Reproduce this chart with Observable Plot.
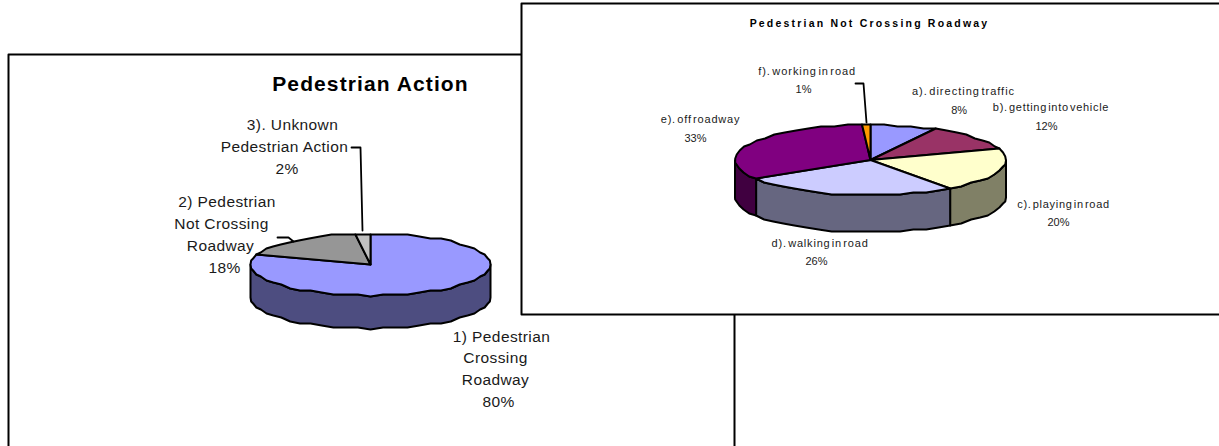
<!DOCTYPE html>
<html>
<head>
<meta charset="utf-8">
<script src="https://cdn.jsdelivr.net/npm/d3@7"></script>
<script src="https://cdn.jsdelivr.net/npm/@observablehq/plot@0.6"></script>
<style>
  html, body { margin: 0; padding: 0; background: #fff; }
  svg { display: block; }
</style>
</head>
<body>
<div id="chart"></div>
<script>
// Shares of each pedestrian action, in percent
const actionLabels = ["1) Pedestrian Crossing Roadway", "2) Pedestrian Not Crossing Roadway", "3). Unknown Pedestrian Action"];
const actionShares = [80, 18, 2];
const actionTops = ["#9999ff", "#969696", "#c0c0c0"];
const actionSides = ["#4d4d80", "#4b4b4b", "#606060"];

const notCrossingLabels = ["a). directing traffic", "b). getting into vehicle", "c). playing in road", "d). walking in road", "e). off roadway", "f). working in road"];
const notCrossingShares = [8, 12, 20, 26, 33, 1];
const notCrossingTops = ["#9999ff", "#993366", "#ffffcc", "#ccccff", "#800080", "#ff9900"];
const notCrossingSides = ["#4d4d80", "#4d1a33", "#808066", "#666680", "#400040", "#804d00"];

const width = 1219, height = 446;

// Flatten a stack of shares into polygons for a tilted pie with a rim.
// Outline points snap to a coarse grid, giving the stepped edge of a low-resolution export.
function tiltedPie(shares, tops, sides, pie) {
  const total = d3.sum(shares);
  const rim = [], faces = [];
  const at = (deg, dy = 0) => {
    const a = deg * Math.PI / 180;
    const y = pie.cy - pie.ry * Math.cos(a);
    return {x: pie.cx + pie.rx * Math.sin(a), y: Math.round(y / pie.snap) * pie.snap + dy};
  };
  let start = 0;
  shares.forEach((share, i) => {
    const end = start + 360 * share / total;
    const steps = Math.max(2, Math.ceil((end - start) / 6));
    const arc = d3.range(steps + 1).map(k => start + (end - start) * k / steps);
    // Rim: only the part of the arc on the near side of the ellipse is visible
    const lo = Math.max(start, 90), hi = Math.min(end, 270);
    if (lo < hi) {
      const near = arc.filter(d => d > lo && d < hi);
      const edge = [lo, ...near, hi];
      const outline = [...edge.map(d => at(d)), ...edge.slice().reverse().map(d => at(d, pie.depth))];
      outline.forEach(p => rim.push({...p, id: `${pie.id}-rim-${i}`, fill: sides[i]}));
    }
    [{x: pie.cx, y: pie.cy}, ...arc.map(d => at(d))].forEach(p =>
      faces.push({...p, id: `${pie.id}-face-${i}`, fill: tops[i]}));
    start = end;
  });
  return {rim, faces};
}

const actionPie = tiltedPie(actionShares, actionTops, actionSides,
  {id: "action", cx: 370, cy: 264, rx: 120, ry: 31, depth: 33, snap: 2});
const notCrossingPie = tiltedPie(notCrossingShares, notCrossingTops, notCrossingSides,
  {id: "notCrossing", cx: 870, cy: 159.5, rx: 135.5, ry: 35, depth: 37, snap: 2});

// Chart frames: the second panel sits on top of the first
const frames = [
  [{x: 8, y: 54}, {x: 734, y: 54}, {x: 734, y: 460}, {x: 8, y: 460}],
  [{x: 521, y: 3}, {x: 1225, y: 3}, {x: 1225, y: 314}, {x: 521, y: 314}]
];

const leaders = [
  [{x: 351, y: 147}, {x: 360, y: 147}, {x: 362, y: 230}],
  [{x: 277, y: 237}, {x: 288, y: 237}, {x: 293, y: 241}],
  [{x: 855, y: 83}, {x: 863, y: 83}, {x: 866, y: 122}]
];

// Label lines, each placed beside its slice
const actionText = [
  {text: "3). Unknown", x: 292, y: 129},
  {text: "Pedestrian Action", x: 284, y: 151.5},
  {text: `${actionShares[2]}%`, x: 286.5, y: 173},
  {text: "2) Pedestrian", x: 226.5, y: 206.5},
  {text: "Not Crossing", x: 221, y: 228.5},
  {text: "Roadway", x: 220, y: 250.5},
  {text: `${actionShares[1]}%`, x: 224, y: 272.5},
  {text: "1) Pedestrian", x: 501, y: 341},
  {text: "Crossing", x: 495, y: 362.5},
  {text: "Roadway", x: 495, y: 384.5},
  {text: `${actionShares[0]}%`, x: 498, y: 406.5}
];
const notCrossingText = [
  {text: notCrossingLabels[5], x: 806.7, y: 74.5, spacing: 0.95},
  {text: `${notCrossingShares[5]}%`, x: 803, y: 92.5, spacing: 0},
  {text: notCrossingLabels[0], x: 963, y: 94.5, spacing: 1},
  {text: `${notCrossingShares[0]}%`, x: 958.7, y: 113, spacing: 0},
  {text: notCrossingLabels[1], x: 1050.5, y: 110.5, spacing: 0.7},
  {text: `${notCrossingShares[1]}%`, x: 1046, y: 129.5, spacing: 0},
  {text: notCrossingLabels[4], x: 700, y: 122.5, spacing: 0.8},
  {text: `${notCrossingShares[4]}%`, x: 695, y: 141, spacing: 0},
  {text: notCrossingLabels[2], x: 1063, y: 207, spacing: 0.7},
  {text: `${notCrossingShares[2]}%`, x: 1058, y: 225, spacing: 0},
  {text: notCrossingLabels[3], x: 819.6, y: 246, spacing: 0.8},
  {text: `${notCrossingShares[3]}%`, x: 816, y: 264, spacing: 0}
];
const spacingByLabel = new Map(notCrossingText.map(d => [d.text, d.spacing]));

const pieLine = (rows) => Plot.line(rows, {
  x: "x", y: "y", z: "id", fill: "fill", stroke: "#000", strokeWidth: 2,
  strokeLinejoin: "round", curve: "linear-closed"
});

const panel = (rows) => Plot.line(rows, {x: "x", y: "y", fill: "#fff", stroke: "#000", strokeWidth: 2, curve: "linear-closed"});
const leader = (rows) => Plot.line(rows, {x: "x", y: "y", stroke: "#000", strokeWidth: 1.8});

const chart = Plot.plot({
  width, height, margin: 0,
  x: {domain: [0, width], range: [0, width], axis: null},
  y: {domain: [0, height], range: [0, height], axis: null},
  style: {background: "#fff", fontFamily: "'Liberation Sans', Arial, sans-serif"},
  marks: [
    panel(frames[0]),
    pieLine(actionPie.rim),
    pieLine(actionPie.faces),
    leader(leaders[0]),
    leader(leaders[1]),
    Plot.text(["Pedestrian Action"], {x: 370, y: 90, text: d => d, fontSize: 21, fontWeight: "bold", lineAnchor: "bottom", fill: "#000", className: "main-title"}),
    Plot.text(actionText, {x: "x", y: "y", text: "text", fontSize: 15.5, lineAnchor: "bottom", fill: "#1a1a1a", className: "action-label"}),
    panel(frames[1]),
    pieLine(notCrossingPie.rim),
    pieLine(notCrossingPie.faces),
    leader(leaders[2]),
    Plot.text(["Pedestrian Not Crossing Roadway"], {x: 869, y: 26, text: d => d, fontSize: 10.5, fontWeight: "bold", lineAnchor: "bottom", fill: "#000", className: "inset-title"}),
    Plot.text(notCrossingText, {x: "x", y: "y", text: "text", fontSize: 11, lineAnchor: "bottom", fill: "#1a1a1a", className: "inset-label"})
  ]
});

// Letter and word spacing, which the text mark has no options for
const root = d3.select(chart);
root.selectAll(".main-title text").attr("letter-spacing", "1.1px");
root.selectAll(".inset-title text").attr("letter-spacing", "2.2px");
root.selectAll(".action-label text").attr("letter-spacing", "0.4px");
root.selectAll(".inset-label text").each(function () {
  const s = d3.select(this);
  s.attr("letter-spacing", `${spacingByLabel.get(s.text())}px`).attr("word-spacing", "-2.5px");
});

document.getElementById("chart").append(chart);
</script>
</body>
</html>
